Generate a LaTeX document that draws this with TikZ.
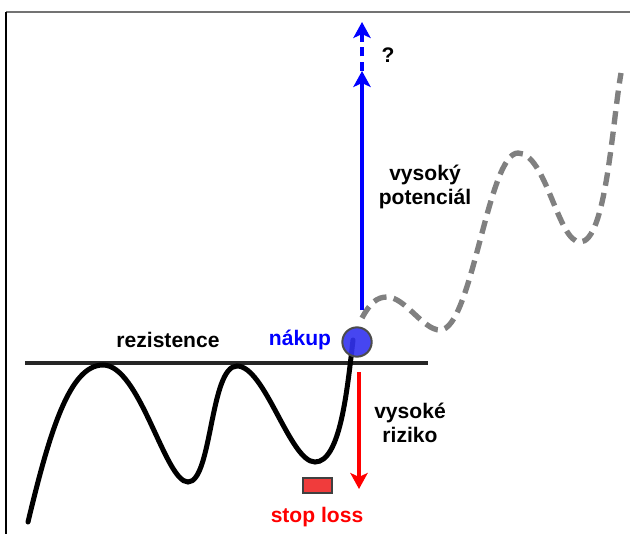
\documentclass[tikz,border=0pt]{standalone}
\usepackage{fontspec}
\setmainfont{Liberation Sans}
\usetikzlibrary{arrows.meta}
\definecolor{myblue}{RGB}{0,0,255}
\definecolor{myred}{RGB}{255,0,0}
\definecolor{boxred}{RGB}{240,60,60}
\definecolor{mygray}{RGB}{128,128,128}
\definecolor{ballblue}{RGB}{50,50,240}
\tikzset{
  lbl/.style={font=\bfseries\fontsize{15.8}{18.5}\selectfont, align=center, inner sep=0pt},
  pricecurve/.style={line width=3.75pt, line cap=round},
  futurecurve/.style={line width=4pt, mygray, dash pattern=on 10pt off 5.5pt},
  tipstyle/.style={-{Stealth[length=12pt,width=13pt,inset=3pt]}},
}
\begin{document}
\begin{tikzpicture}[x=0.75pt,y=-0.75pt]
\useasboundingbox (0,0) rectangle (630,534);
\fill[white] (0,0) rectangle (630,534);
% frame
\draw[line width=1.2pt, gray!90!black] (6,12) -- (630,12);
\draw[line width=1.2pt, black] (6,12) -- (6,534);
% resistance
\coordinate (rl) at (25,363);
\coordinate (rr) at (428,363);
\draw[line width=2.4pt, black!85] (rl) -- (rr);
% price curve
\draw[pricecurve] (28,522) .. controls (50,430) and (70,365) .. (103,365)
  .. controls (140,365) and (165,482) .. (188,482)
  .. controls (212,482) and (210,366) .. (237,366)
  .. controls (265,366) and (290,462) .. (315,462)
  .. controls (340,462) and (347,392) .. (353,340);
% future curve
\draw[futurecurve] (362,318) .. controls (370,303) and (377,297) .. (387,297)
  .. controls (405,297) and (423,330) .. (440,330)
  .. controls (472,330) and (488,153) .. (518,153)
  .. controls (546,153) and (558,242) .. (580,242)
  .. controls (606,242) and (612,125) .. (621,73);
% ball
\node[circle, minimum size=22pt, inner sep=0pt, fill=ballblue, fill opacity=0.9, draw=black!70, line width=1.5pt] (ball) at (357,342) {};
% blue arrows
\coordinate (bstart) at (362,310);
\coordinate (bmid) at (362,71);
\coordinate (btop) at (362,22);
\draw[myblue, line width=2.4pt, tipstyle] (bstart) -- (bmid);
\draw[myblue, line width=2.4pt, dash pattern=on 7pt off 4pt, tipstyle] (bmid) -- (btop);
\node[lbl] (q) at (388,55) {?};
% red arrow
\coordinate (rtop) at (359,372);
\coordinate (rbot) at (359,489);
\draw[myred, line width=2.4pt, tipstyle] (rtop) -- (rbot);
% stop loss box
\node[draw=black!75, line width=1.5pt, fill=boxred, minimum width=22pt, minimum height=11pt, inner sep=0pt] (sl) at (317.5,485.5) {};
% labels
\node[lbl] (rez) at (168,340) {rezistence};
\node[lbl, myblue] (nak) at (300,340) {nákup};
\node[lbl] (pot) at (425,187) {vysoký\\potenciál};
\node[lbl] (riz) at (410,423) {vysoké\\riziko};
\node[lbl, myred] (stop) at (317,517) {stop loss};
\end{tikzpicture}
\end{document}
